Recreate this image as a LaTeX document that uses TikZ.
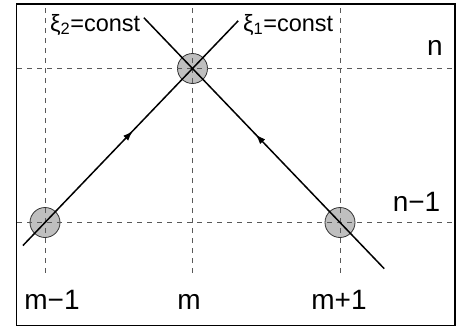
\documentclass[tikz,border=0pt]{standalone}
\usepackage{fontspec}
\setmainfont{Liberation Sans}
\usetikzlibrary{arrows.meta,calc,decorations.markings}

\begin{document}
\begin{tikzpicture}[
        x=1pt, y=-1pt,
        point/.style={
            circle,
            draw=black!80,
            fill=black!25,
            line width=0.8pt,
            minimum size=30pt,
            inner sep=0pt
        },
        grid/.style={
            dashed,
            dash pattern=on 5pt off 5pt,
            black!65,
            line width=1pt
        },
        charline/.style={
            line width=1.5pt
        },
        midarrow/.style={
            postaction={decorate},
            decoration={markings,
                mark=at position #1 with {\arrow{Latex[length=10pt,width=7pt]}}}
        },
        big/.style={
            font=\fontsize{28}{28}\selectfont,
            anchor=base,
            inner sep=0pt
        },
        small/.style={
            font=\fontsize{23.5}{23.5}\selectfont,
            anchor=base west,
            inner sep=0pt
        }
    ]

        \useasboundingbox (0,0) rectangle (459,327);

        % grid points
        \node[point] (top) at (192.5,68.5) {};
        \node[point] (lft) at (45,222.5) {};
        \node[point] (rgt) at (340,222.5) {};

        % grid lines
        \draw[grid] (17,68.5) -- (455,68.5);
        \draw[grid] (17,222.5) -- (455,222.5);
        \draw[grid] (45,8) -- (45,276);
        \draw[grid] (192.5,8) -- (192.5,276);
        \draw[grid] (340,8) -- (340,276);

        % characteristics
        \coordinate (lstart) at ($(lft)!-0.15!(top)$);
        \coordinate (lend) at ($(lft)!1.31!(top)$);
        \coordinate (rstart) at ($(rgt)!-0.30!(top)$);
        \coordinate (rend) at ($(rgt)!1.33!(top)$);

        \draw[charline, midarrow=0.51] (lstart) -- (lend);
        \draw[charline, midarrow=0.535] (rstart) -- (rend);

        % frame
        \draw[line width=1.4pt] (16.5,4) rectangle (455,325.5);

        % labels
        \node[small] (xi2) at (50,31) {ξ\textsubscript{2}=const};
        \node[small] (xi1) at (243,31) {ξ\textsubscript{1}=const};
        \node[big] (n) at (435,55) {n};
        \node[big] (nm1) at (416.5,211.5) {n−1};
        \node[big] (mm1) at (52,309) {m−1};
        \node[big] (m) at (189,309) {m};
        \node[big] (mp1) at (339,309) {m+1};

    \end{tikzpicture}
\end{document}
